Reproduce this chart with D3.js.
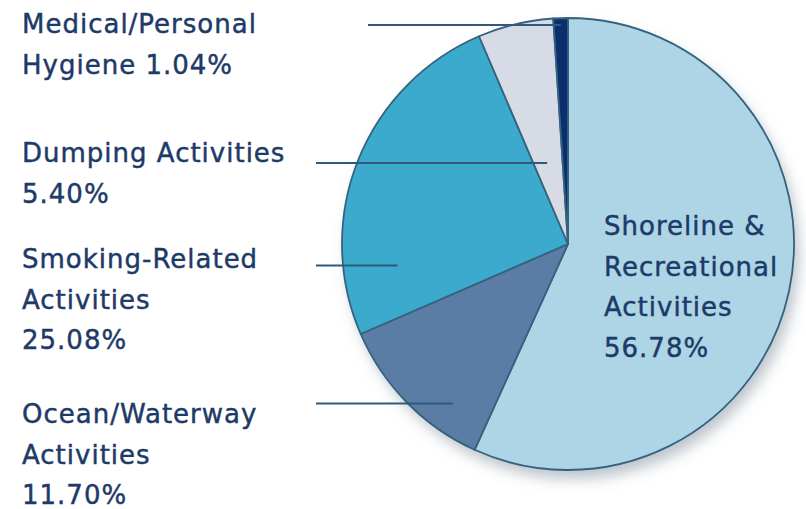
<!DOCTYPE html>
<html>
<head>
<meta charset="utf-8">
<script src="https://cdn.jsdelivr.net/npm/d3@7"></script>
<style>
  body { margin: 0; background: #fff; }
  svg { display: block; }
  text { font-family: "DejaVu Sans", sans-serif; font-size: 26px; letter-spacing: 1px;
         fill: #1d3a68; stroke: #1d3a68; stroke-width: 0.45px; }
</style>
</head>
<body>
<svg></svg>
<script>
var width = 806;
var height = 509;

// slices, clockwise from 12 o'clock
var categories = ["Shoreline & Recreational Activities", "Ocean/Waterway Activities",
                  "Smoking-Related Activities", "Dumping Activities", "Medical/Personal Hygiene"];
var values = [56.78, 11.70, 25.08, 5.40, 1.04];
var colors = ["#add5e5", "#5a7ca5", "#3caacd", "#d6dbe6", "#0b2f6c"];
// label text, {v} is replaced by the percentage
var labelLines = [
    ["Shoreline &", "Recreational", "Activities", "{v}"],
    ["Ocean/Waterway", "Activities", "{v}"],
    ["Smoking-Related", "Activities", "{v}"],
    ["Dumping Activities", "{v}"],
    ["Medical/Personal", "Hygiene {v}"]
];

// layout
var cx = 568, cy = 244, radius = 226;
var lineGap = 40.5;
var labelX = [604, 22, 22, 22, 22];
var labelY = [235, 423, 268, 162, 33];
// leader end inside each slice: t = fraction of the slice angle, k = fraction of radius
var leader = [null, {t: 0.27, k: 0.87}, {t: 0.18, k: 0.76}, {t: 0.45, k: 0.37}, {t: 0.5, k: 0.97}];
var leaderStartX = [null, 316, 316, 316, 368];

var fmt = d3.format(".2f");

var svg = d3.select("svg")
    .attr("width", width)
    .attr("height", height)
    .attr("viewBox", [0, 0, width, height]);

var defs = svg.append("defs");
var shadow = defs.append("filter")
    .attr("id", "shadow")
    .attr("x", "-20%").attr("y", "-20%")
    .attr("width", "140%").attr("height", "140%");
shadow.append("feDropShadow")
    .attr("dx", 5).attr("dy", 9)
    .attr("stdDeviation", 7)
    .attr("flood-color", "#7a8a99")
    .attr("flood-opacity", 0.5);

var pie = d3.pie().sort(null).value(function(d) { return d; });
var arcs = pie(values);
var arc = d3.arc().innerRadius(0).outerRadius(radius);

var g = svg.append("g").attr("transform", "translate(" + cx + "," + cy + ")");

// shadow disc under the pie
g.append("circle")
    .attr("r", radius)
    .attr("fill", "#fff")
    .attr("filter", "url(#shadow)");

g.selectAll("path.slice")
    .data(arcs)
    .enter().append("path")
    .attr("class", "slice")
    .attr("d", arc)
    .attr("fill", function(d, i) { return colors[i]; })
    .attr("stroke", "#36627f")
    .attr("stroke-width", 1.8)
    .attr("stroke-linejoin", "round");

// leader lines
arcs.forEach(function(d, i) {
    if (!leader[i]) return;
    var a = d.startAngle + leader[i].t * (d.endAngle - d.startAngle);
    var r = leader[i].k * radius;
    var x = cx + Math.sin(a) * r;
    var y = cy - Math.cos(a) * r;
    svg.append("line")
        .attr("x1", leaderStartX[i]).attr("x2", x)
        .attr("y1", y).attr("y2", y)
        .attr("stroke", "#2f5a7e")
        .attr("stroke-width", 2);
});

// labels
labelLines.forEach(function(lines, i) {
    var t = svg.append("text")
        .attr("x", labelX[i])
        .attr("y", labelY[i]);
    lines.forEach(function(s, j) {
        t.append("tspan")
            .attr("x", labelX[i])
            .attr("y", labelY[i] + j * lineGap)
            .text(s.replace("{v}", fmt(values[i]) + "%"));
    });
});
</script>
</body>
</html>
